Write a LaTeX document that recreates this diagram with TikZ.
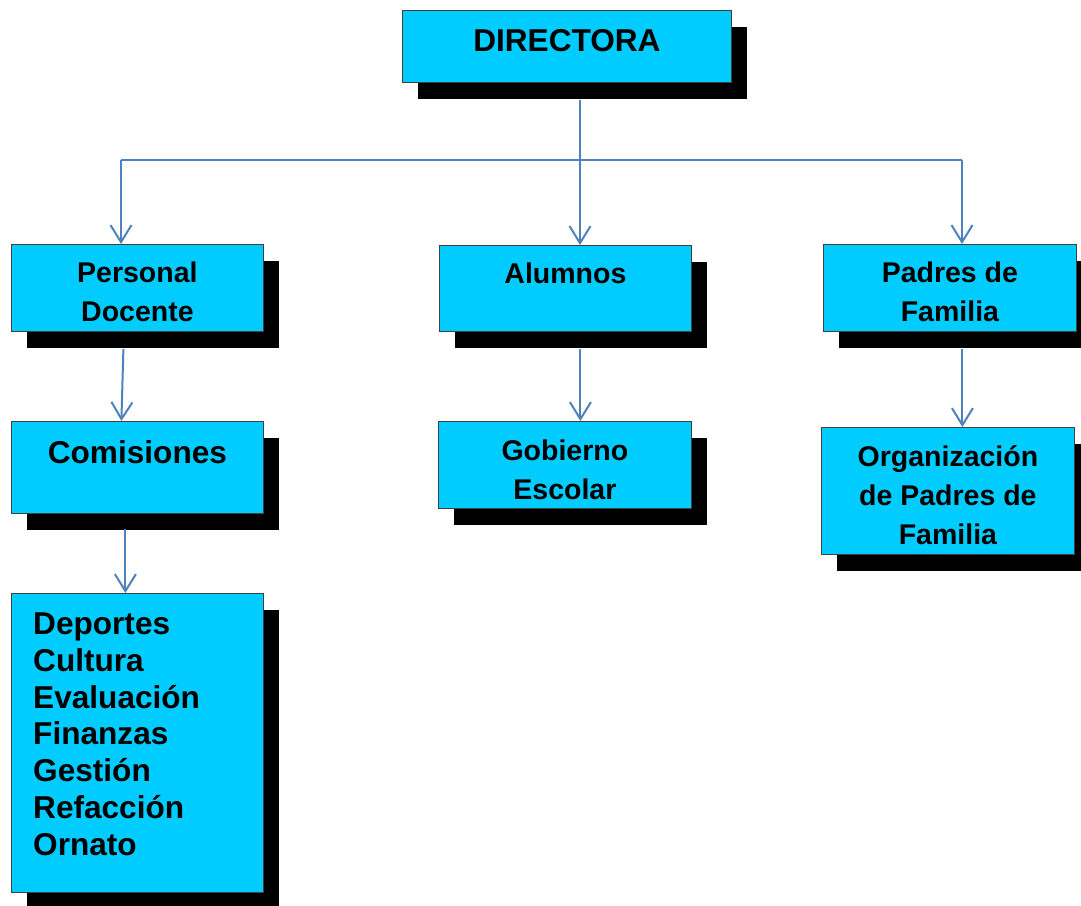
\documentclass[tikz,border=0pt]{standalone}
\usepackage{fontspec}
\setmainfont{Liberation Sans}
\usetikzlibrary{shadows,arrows.meta}

\definecolor{celeste}{HTML}{00CCFF}
\definecolor{linea}{HTML}{4F81BD}

\tikzset{
  caja/.style={draw=black!75, line width=0.8pt, fill=celeste, anchor=north west,
    inner sep=0pt, drop shadow={shadow xshift=16pt, shadow yshift=-17pt, fill=black, opacity=1}},
  texto/.style={font=\bfseries\fontsize{28.5}{39}\selectfont, align=center, anchor=north,
    inner sep=0pt, execute at begin node=\strut},
  grande/.style={texto, font=\bfseries\fontsize{31.6}{38}\selectfont},
  flecha/.style={draw=linea, line width=2pt, -{Straight Barb[length=17pt,width=21pt,line width=2pt]}}
}

\begin{document}
\begin{tikzpicture}[x=1pt,y=-1pt]
                \useasboundingbox (0,0) rectangle (1081,905);
                % cajas
                \node[caja, minimum width=329pt, minimum height=72pt] (dir) at (402,10) {};
                \node[caja, minimum width=252pt, minimum height=87pt] (pd) at (11,244) {};
                \node[caja, minimum width=252pt, minimum height=86pt] (alu) at (439,245) {};
                \node[caja, minimum width=253pt, minimum height=87pt] (pf) at (823,244) {};
                \node[caja, minimum width=252pt, minimum height=92pt] (com) at (11,421) {};
                \node[caja, minimum width=253pt, minimum height=87pt] (gob) at (438,421) {};
                \node[caja, minimum width=253pt, minimum height=127pt] (org) at (821,427) {};
                \node[caja, minimum width=252pt, minimum height=299pt] (lista) at (11,593) {};
                % textos
                \node[grande] (dirT) at ([yshift=-15pt]dir.north) {DIRECTORA};
                \node[texto] (pdT) at ([yshift=-18pt]pd.north) {Personal\\Docente};
                \node[texto] (aluT) at ([yshift=-11pt]alu.north) {Alumnos};
                \node[texto] (pfT) at ([yshift=-18pt]pf.north) {Padres de\\Familia};
                \node[grande] (comT) at ([yshift=-16pt]com.north) {Comisiones};
                \node[texto] (gobT) at ([yshift=-19pt]gob.north) {Gobierno\\Escolar};
                \node[texto] (orgT) at ([yshift=-18.5pt]org.north) {Organización\\de Padres de\\Familia};
                \node[grande, font=\bfseries\fontsize{31.6}{36.8}\selectfont, align=left, anchor=north west]
                  (listaT) at ([xshift=22pt,yshift=-19.5pt]lista.north west)
                  {Deportes\\Cultura\\Evaluación\\Finanzas\\Gestión\\Refacción\\Ornato};
                % conectores
                \coordinate (d0) at (580,100);
                \coordinate (ramaI) at (121,160);
                \coordinate (ramaD) at (962,160);
                \draw[draw=linea, line width=2pt] (ramaI) -- (ramaD);
                \draw[flecha] (d0) -- (d0 |- alu.north);
                \draw[flecha] (ramaI) -- (ramaI |- pd.north);
                \draw[flecha] (ramaD) -- (ramaD |- pf.north);
                \draw[flecha] ([xshift=-14pt,yshift=-17pt]pd.south) -- ([xshift=-16pt]com.north);
                \draw[flecha] ([xshift=15pt,yshift=-17pt]alu.south) -- ([xshift=15.5pt]gob.north);
                \draw[flecha] ([xshift=12.5pt,yshift=-17pt]pf.south) -- ([xshift=14.5pt]org.north);
                \draw[flecha] ([xshift=-12pt,yshift=-15pt]com.south) -- ([xshift=-12pt]lista.north);
            \end{tikzpicture}
\end{document}
